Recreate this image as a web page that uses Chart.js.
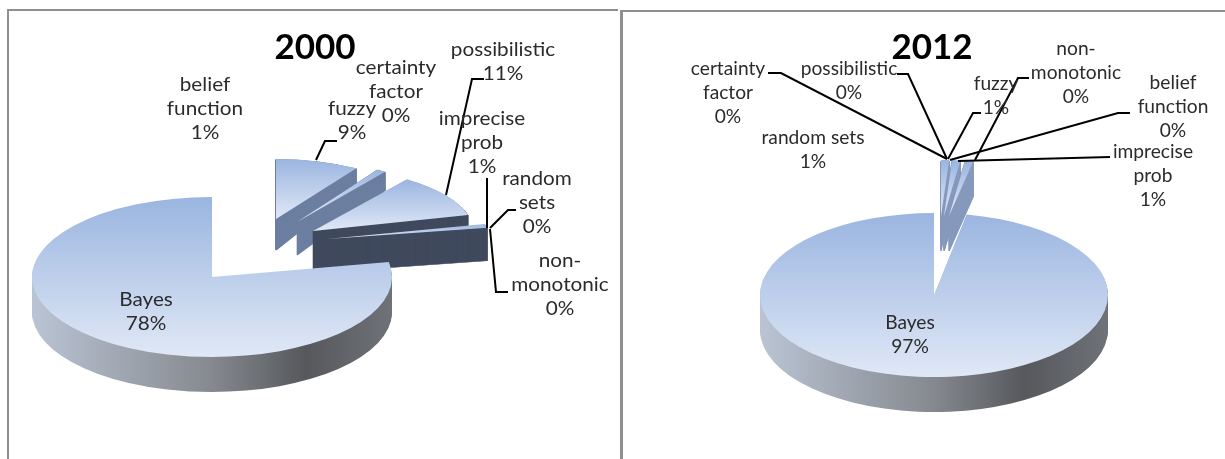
<!DOCTYPE html>
<html>
<head>
<meta charset="utf-8">
<title>Uncertainty formalisms, 2000 and 2012</title>
<script src="https://cdn.jsdelivr.net/npm/chart.js@4/dist/chart.umd.js"></script>
<style>
  html, body { margin: 0; padding: 0; background: #fff; overflow: hidden; width: 1225px; height: 459px; }
  canvas { position: absolute; top: 0; }
  .frame { position: absolute; background: #8f8f8f; }
</style>
</head>
<body>
<div class="frame" style="left:7px;top:9px;width:2px;height:450px"></div>
<div class="frame" style="left:7px;top:9px;width:611px;height:2px"></div>
<div class="frame" style="left:620px;top:10px;width:3px;height:449px"></div>
<div class="frame" style="left:620px;top:10px;width:605px;height:2px"></div>
<canvas id="pie2000"></canvas>
<canvas id="pie2012"></canvas>
<script>
// Share of each formalism, in percent, listed clockwise from twelve o'clock.
const categories2000 = ['fuzzy', 'belief function', 'certainty factor', 'possibilistic', 'imprecise prob', 'random sets', 'non-monotonic', 'Bayes'];
const values2000 = [9, 1, 0, 11, 1, 0, 0, 78];
const categories2012 = ['random sets', 'certainty factor', 'possibilistic', 'fuzzy', 'non-monotonic', 'belief function', 'imprecise prob', 'Bayes'];
const values2012 = [1, 0, 0, 1, 0, 0, 1, 97];

// How a long category name breaks over lines in its label.
const wrap2000 = {
  'belief function': ['belief', 'function'],
  'certainty factor': ['certainty', 'factor'],
  'imprecise prob': ['imprecise', 'prob'],
  'non-monotonic': ['non-', 'monotonic'],
  'random sets': ['random', 'sets']
};
const wrap2012 = {
  'belief function': ['belief', 'function'],
  'certainty factor': ['certainty', 'factor'],
  'imprecise prob': ['imprecise', 'prob'],
  'non-monotonic': ['non-', 'monotonic']
};

const RADIUS = 100;
const TEXT_FONT = '19px Lato, "Open Sans", sans-serif';

// Exploded placement of each slice: apex x/y, ellipse radii, extrusion depth, side colour.
// taper widens the lower layers so the side narrows towards the rim.
const place2000 = {
  'fuzzy':           { x: 276, y: 219, rx: 150, ry: 60, depth: 31, taper: 0.5, side: '#6c7fa1' },
  'belief function': { x: 297, y: 222, rx: 150, ry: 62, depth: 33, taper: 0.55, side: '#6c7fa1' },
  'possibilistic':   { x: 313, y: 231, rx: 160, ry: 64, depth: 38, taper: 0, side: '#404a5e' },
  'imprecise prob':  { x: 327, y: 239, rx: 163, ry: 60, depth: 33, taper: 0, side: '#404a5e' },
  'Bayes':           { x: 212, y: 277, rx: 180, ry: 80, depth: 35, taper: 0, side: null }
};
const place2012 = {
  'random sets':    { x: 941, y: 216, rx: 130, ry: 56, depth: 35, taper: 0, side: '#8699bd' },
  'fuzzy':          { x: 944, y: 216, rx: 130, ry: 56, depth: 35, taper: 0, side: '#8699bd' },
  'imprecise prob': { x: 949, y: 216, rx: 130, ry: 56, depth: 35, taper: 0, side: '#8699bd' },
  'Bayes':          { x: 934, y: 295, rx: 174, ry: 82, depth: 35, taper: 0, side: null }
};

// Label anchors: centre x and the vertical centre of the first text line.
const labels2000 = {
  'belief function': [205, 85], 'certainty factor': [396, 68], 'fuzzy': [352, 109],
  'possibilistic': [503, 50], 'imprecise prob': [482, 119], 'random sets': [537, 179],
  'non-monotonic': [560, 261], 'Bayes': [146, 300]
};
const labels2012 = {
  'certainty factor': [728, 69], 'possibilistic': [849, 69], 'fuzzy': [996, 84],
  'non-monotonic': [1076, 49], 'belief function': [1173, 83], 'imprecise prob': [1153, 152],
  'random sets': [813, 138], 'Bayes': [910, 323]
};

// Leader lines from labels to slices.
const leaders2000 = [
  [[316, 160], [325, 141], [337, 141]],
  [[446, 195], [472, 79], [484, 79]],
  [[487, 178], [487, 228]],
  [[490, 228], [508, 210], [516, 210]],
  [[490, 229], [496, 292], [508, 292]]
];
const leaders2012 = [
  [[768, 73], [781, 73], [947, 159]],
  [[897, 74], [908, 74], [947, 159]],
  [[948, 159], [973, 113], [981, 113]],
  [[975, 160], [1018, 78], [1029, 78]],
  [[950, 160], [1118, 113], [1130, 113]],
  [[958, 161], [1110, 157]]
];

// Draws every slice through its own arc element, flattened and extruded into a tilted disc.
const tiltedPie = {
  id: 'tiltedPie',
  beforeDatasetDraw(chart, args, opts) {
    const ctx = chart.ctx;
    const names = chart.data.labels;
    const left = chart.canvas.offsetLeft;
    chart.getDatasetMeta(args.index).data.forEach((arc, i) => {
      const p = opts.place[names[i]];
      if (!p || arc.circumference === 0) return;
      const base = arc.options;
      const paint = (dy, style) => {
        ctx.save();
        ctx.translate(p.x - left, p.y + dy);
        ctx.scale(p.rx / RADIUS, (p.ry + dy * p.taper) / RADIUS);
        ctx.translate(-arc.x, -arc.y);
        arc.options = Object.assign({}, base, style);
        arc.draw(ctx);
        ctx.restore();
      };
      // Extruded sides first, deepest layer at the back.
      let side = p.side;
      let sideStyle;
      if (side) {
        // A hairline stroke keeps very thin wedges solid near the apex.
        sideStyle = { backgroundColor: side, borderColor: side, borderWidth: 1.2 };
      } else {
        side = ctx.createLinearGradient(arc.x - RADIUS, 0, arc.x + RADIUS, 0);
        side.addColorStop(0, '#bac4d4');
        side.addColorStop(0.5, '#85898f');
        side.addColorStop(0.76, '#56585c');
        side.addColorStop(1, '#6f7278');
        sideStyle = { backgroundColor: side };
      }
      for (let d = p.depth; d >= 1; d--) paint(d, sideStyle);
      // Top face: vertical blue gradient spanning the slice's own height.
      let top = 0, bottom = 0;
      for (let k = 0; k <= 24; k++) {
        const s = Math.sin(arc.startAngle + (arc.endAngle - arc.startAngle) * k / 24) * RADIUS;
        top = Math.min(top, s);
        bottom = Math.max(bottom, s);
      }
      const face = ctx.createLinearGradient(0, arc.y + top, 0, arc.y + bottom);
      face.addColorStop(0, '#9ab5e0');
      face.addColorStop(1, '#e0e8f6');
      paint(0, { backgroundColor: face });
      arc.options = base;
    });
    return false;
  },
  afterDraw(chart, args, opts) {
    const ctx = chart.ctx;
    const left = chart.canvas.offsetLeft;
    ctx.save();
    ctx.lineWidth = 2;
    ctx.strokeStyle = '#000';
    ctx.lineJoin = 'miter';
    opts.leaders.forEach(line => {
      ctx.beginPath();
      line.forEach(([x, y], k) => k ? ctx.lineTo(x - left, y) : ctx.moveTo(x - left, y));
      ctx.stroke();
    });
    ctx.font = TEXT_FONT;
    ctx.fillStyle = '#2b2b2b';
    ctx.textAlign = 'center';
    ctx.textBaseline = 'middle';
    chart.data.labels.forEach((name, i) => {
      const [x, y] = opts.labels[name];
      const rows = (opts.wrap[name] || [name]).concat(chart.data.datasets[0].data[i] + '%');
      rows.forEach((row, r) => {
        ctx.save();
        ctx.translate(x - left, y + r * 23.7);
        ctx.scale(opts.stretch, 1);
        ctx.fillText(row, 0, 0);
        ctx.restore();
      });
    });
    ctx.restore();
  }
};

function buildPie(id, left, year, categories, values, place, labels, leaders, wrap, stretch) {
  const canvas = document.getElementById(id);
  canvas.style.left = left + 'px';
  return new Chart(canvas, {
    type: 'pie',
    data: {
      labels: categories,
      datasets: [{ data: values, backgroundColor: '#9ab5e0', borderWidth: 0, radius: RADIUS }]
    },
    options: {
      responsive: false,
      animation: false,
      rotation: 0,
      events: [],
      plugins: {
        legend: { display: false },
        tooltip: { enabled: false },
        title: {
          display: true,
          text: year,
          color: '#000',
          font: { family: 'Lato, "Open Sans", sans-serif', size: 35, weight: 'bold' },
          padding: { top: 27, bottom: 0 }
        },
        tiltedPie: { place, labels, leaders, wrap, stretch }
      }
    },
    plugins: [tiltedPie]
  });
}

for (const [id, w] of [['pie2000', 630], ['pie2012', 620]]) {
  const c = document.getElementById(id);
  c.width = w;
  c.height = 459;
}
buildPie('pie2000', 0, '2000', categories2000, values2000, place2000, labels2000, leaders2000, wrap2000, 1.09);
buildPie('pie2012', 622, '2012', categories2012, values2012, place2012, labels2012, leaders2012, wrap2012, 1.01);
</script>
</body>
</html>
